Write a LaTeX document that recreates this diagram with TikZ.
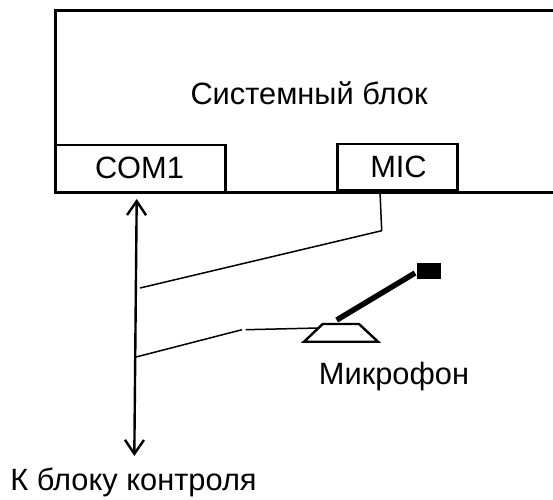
\documentclass[tikz,border=0pt]{standalone}
\usepackage{fontspec}
\setmainfont{Liberation Sans}
\usetikzlibrary{arrows.meta}

\begin{document}
\begin{tikzpicture}[x=1pt, y=-1pt, >={Straight Barb[length=14pt, width=19pt]},
  box/.style={draw, line width=2.6pt, fill=white, outer sep=0pt, inner sep=0pt},
  label/.style={inner sep=0pt, font=\fontsize{30.8}{32}\selectfont},
  wire/.style={line width=1.5pt},
  bus/.style={line width=2.4pt}]
  \useasboundingbox (0,0) rectangle (553,499);

  % System unit
  \node[box, minimum width=520pt, minimum height=181.5pt] (unit) at (315.5,101.5) {};
  \node[label] (unittext) at (309,93) {Системный блок};

  % Ports
  \node[box, minimum width=170pt, minimum height=47.5pt] (com) at (140.5,168.7) {};
  \node[label] (comtext) at (139.5,168) {COM1};
  \node[box, minimum width=120pt, minimum height=46pt] (mic) at (397.3,167) {};
  \node[label] (mictext) at (398.5,167) {MIC};

  % Microphone
  \node[draw, fill=black, minimum width=23pt, minimum height=15pt, inner sep=0pt, outer sep=0pt] (head) at (429,270.7) {};
  \coordinate (base1) at (304,341.7);
  \coordinate (base2) at (378,341.7);
  \coordinate (base3) at (359,324);
  \coordinate (base4) at (322.7,324);
  \draw[line width=2.4pt, fill=white] (base1) -- (base2) -- (base3) -- (base4) -- cycle;
  \coordinate (stick) at (336.7,320);
  \coordinate (stickend) at (415,273);
  \draw[line width=5.5pt] (stick) -- (stickend);
  \node[label] (mictitle) at (394,377) {Микрофон};

  % Bus
  \coordinate (bustop) at (136.7,199);
  \coordinate (busbottom) at (134.3,456);
  \draw[<->, bus] (bustop) -- (busbottom);
  \node[label] (buslabel) at (133.5,482.5) {К блоку контроля};

  % Wires
  \coordinate (micout) at (380,192);
  \coordinate (micbend) at (381.7,230.7);
  \coordinate (upperend) at (140,288);
  \coordinate (lowerend) at (136,357);
  \coordinate (lowerbreak) at (242,329.7);
  \coordinate (lowernext) at (245.7,329.7);
  \coordinate (micin) at (318,328);
  \draw[wire] (micout) -- (micbend) -- (upperend);
  \draw[wire] (lowerend) -- (lowerbreak);
  \draw[wire] (lowernext) -- (micin);
\end{tikzpicture}
\end{document}
